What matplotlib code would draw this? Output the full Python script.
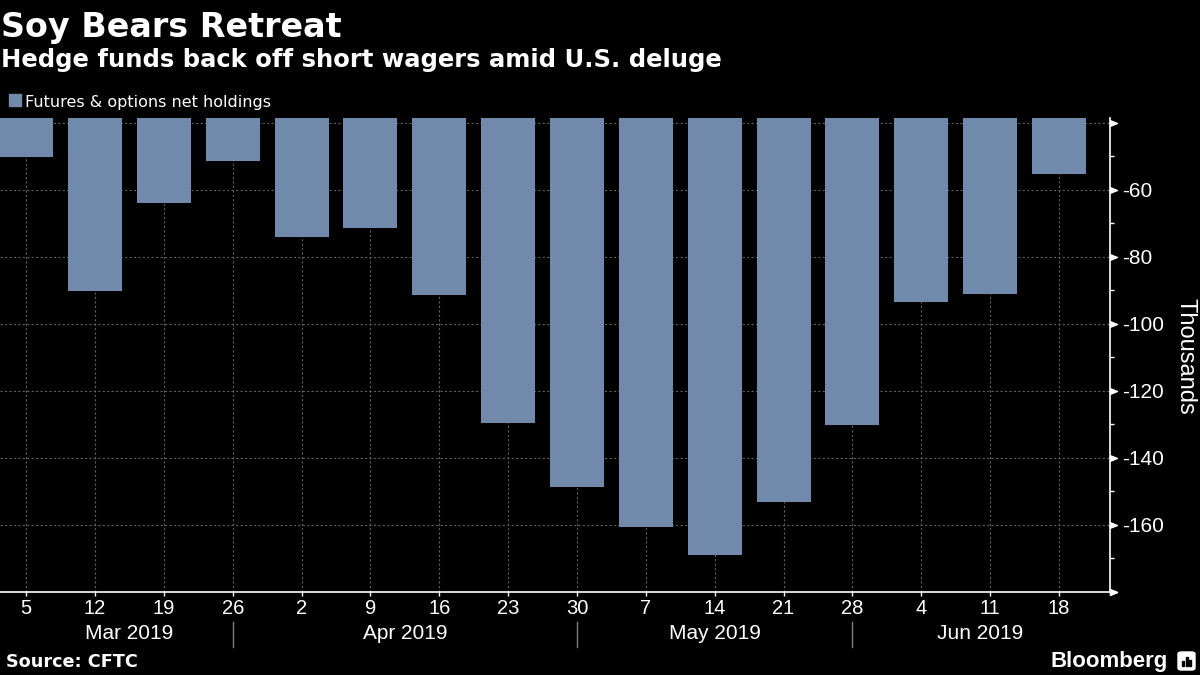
import matplotlib
matplotlib.use('Agg')
import matplotlib.pyplot as plt
from matplotlib.path import Path
from matplotlib.patches import Rectangle, FancyBboxPatch
from matplotlib.ticker import FixedLocator, MultipleLocator
import matplotlib.transforms as mtransforms

# weekly data, thousands of contracts
week_labels = ['5', '12', '19', '26', '2', '9', '16', '23', '30',
               '7', '14', '21', '28', '4', '11', '18']
net_holdings = [-50.1, -90.1, -63.8, -51.3, -73.9, -71.3, -91.3, -129.5,
                -148.6, -160.5, -168.9, -153.0, -130.1, -93.3, -91.0, -55.1]
months = ['Mar 2019', 'Apr 2019', 'May 2019', 'Jun 2019']
month_centers = [1.5, 5.5, 10.0, 13.85]
month_breaks = [3, 8, 12]
y_ticks = [-180, -160, -140, -120, -100, -80, -60, -40]
y_ticklabels = ['', '-160', '-140', '-120', '-100', '-80', '-60', '']

BAR = '#7189ab'
GRID = '#5e5e5e'
W, H = 1200, 675

fig = plt.figure(figsize=(12, 6.75), dpi=100, facecolor='black')
ax = fig.add_axes([0, 1 - 592 / H, 1110 / W, (592 - 118.3) / H])
ax.set_facecolor('black')

x = list(range(len(net_holdings)))
ax.bar(x, net_holdings, width=0.785, color=BAR, zorder=2,
       label='Futures & options net holdings')
ax.set_xlim(-0.379, 15.74)
ax.set_ylim(-180, -38.6)

# grid
ax.set_axisbelow(True)
ax.grid(True, which='major', color=GRID, linestyle=(0, (2, 2)), linewidth=0.8)

# spines
for s in ['left', 'top']:
    ax.spines[s].set_visible(False)
ax.spines['right'].set_color('white')
ax.spines['bottom'].set_color('white')
ax.spines['right'].set_linewidth(1.2)
ax.spines['bottom'].set_linewidth(1.2)

# x ticks
ax.set_xticks(x)
ax.set_xticklabels(week_labels)
ax.tick_params(axis='x', colors='white', length=3, width=1, pad=2,
               labelsize=14.5, direction='out')
for t in ax.get_xticklabels():
    t.set_fontfamily('Liberation Sans')

# y ticks on right
ax.yaxis.tick_right()
ax.yaxis.set_major_locator(FixedLocator(y_ticks))
ax.set_yticklabels(y_ticklabels)
ax.yaxis.set_minor_locator(MultipleLocator(10))
ax.tick_params(axis='y', which='major', colors='white', length=0, pad=9,
               labelsize=15)
ax.tick_params(axis='y', which='minor', colors='white', length=3, width=1,
               direction='out')
for t in ax.get_yticklabels():
    t.set_fontfamily('Liberation Sans')

# arrow-like tick markers
tri = Path([(0, -0.4), (1, 0), (0, 0.4), (0, -0.4)],
           [Path.MOVETO, Path.LINETO, Path.LINETO, Path.CLOSEPOLY])
ytrans = mtransforms.blended_transform_factory(ax.transAxes, ax.transData)
ax.plot([1.0] * len(y_ticks), y_ticks, linestyle='none', marker=tri,
        markersize=10, color='white', transform=ytrans, clip_on=False, zorder=5)
ax.plot([1.0], [0.0], linestyle='none', marker=tri, markersize=10,
        color='white', transform=ax.transAxes, clip_on=False, zorder=5)

ax.text(1185 / 1110, (592 - 356.7) / (592 - 118.3), 'Thousands',
        transform=ax.transAxes, rotation=270, ha='center', va='center',
        color='white', fontsize=17, family='Liberation Sans')

# month labels and separators
xtrans = mtransforms.blended_transform_factory(ax.transData, ax.transAxes)
for b in month_breaks:
    ax.plot([b, b], [-0.063, -0.116], color='#808080', linewidth=1,
            transform=xtrans, clip_on=False)
for m, c in zip(months, month_centers):
    ax.text(c, -0.0866, m, transform=xtrans, ha='center', va='center',
            color='white', fontsize=15, family='Liberation Sans')

# headers
fig.text(0.001, 1 - 36.7 / H, 'Soy Bears Retreat', color='white',
         fontsize=24, fontweight='bold', va='baseline', ha='left')
fig.text(0.001, 1 - 67.3 / H,
         'Hedge funds back off short wagers amid U.S. deluge',
         color='white', fontsize=17.5, fontweight='bold', va='baseline',
         ha='left')

# legend
fig.patches.append(Rectangle((9.3 / W, 1 - 106 / H), 11.4 / W, 12 / H,
                             transform=fig.transFigure, color=BAR))
fig.text(25 / W, 1 - 106.7 / H, 'Futures & options net holdings',
         color='white', fontsize=11.5, va='baseline', ha='left')

# footer
fig.text(6 / W, 1 - 662 / H, 'Source: CFTC', color='white', fontsize=12.7,
         fontweight='bold', va='center', ha='left')
fig.text(1168 / W, 1 - 661 / H, 'Bloomberg', color='white', fontsize=16,
         fontweight='bold', va='center', ha='right',
         family='Liberation Sans')
fig.patches.append(FancyBboxPatch((1178 / W, 1 - 670 / H), 17 / W, 18 / H,
                                  boxstyle='round,pad=0,rounding_size=0.003',
                                  transform=fig.transFigure, color='white'))
for i, hgt in enumerate([5, 9, 6]):
    fig.patches.append(Rectangle(((1182 + i * 3.5) / W, 1 - 666 / H),
                                 2 / W, hgt / H, transform=fig.transFigure,
                                 color='black'))

fig.savefig('out.png', dpi=100, facecolor='black')
